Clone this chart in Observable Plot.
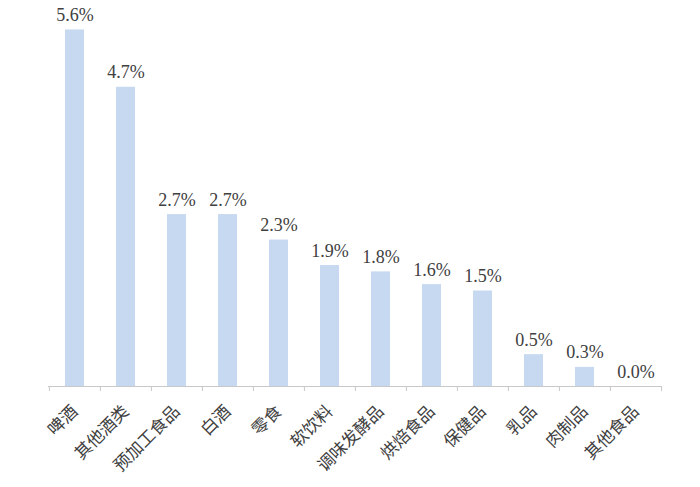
<!DOCTYPE html>
<html>
<head>
<meta charset="utf-8">
<script src="https://cdn.jsdelivr.net/npm/d3@7"></script>
<script src="https://cdn.jsdelivr.net/npm/@observablehq/plot@0.6"></script>
<style>
  body { margin: 0; background: #fff; }
</style>
</head>
<body>
<div id="chart"></div>
<script>
const categories = ["啤酒", "其他酒类", "预加工食品", "白酒", "零食", "软饮料", "调味发酵品", "烘焙食品", "保健品", "乳品", "肉制品", "其他食品"];
const values = [5.6, 4.7, 2.7, 2.7, 2.3, 1.9, 1.8, 1.6, 1.5, 0.5, 0.3, 0.0];
const labels = ["5.6%", "4.7%", "2.7%", "2.7%", "2.3%", "1.9%", "1.8%", "1.6%", "1.5%", "0.5%", "0.3%", "0.0%"];

const data = categories.map((c, i) => ({cat: c, value: values[i], label: labels[i]}));

const W = 700, H = 487;
const mL = 48, mR = 38, mT = 4, mB = 101;
const step = (W - mL - mR) / categories.length;
const axisColor = "#c8c8c8";

const chart = Plot.plot({
  width: W,
  height: H,
  marginLeft: mL,
  marginRight: mR,
  marginTop: mT,
  marginBottom: mB,
  x: {domain: categories, paddingInner: 0.63, paddingOuter: 0.315, axis: null},
  y: {domain: [0, 6], axis: null},
  marks: [
    Plot.barY(data, {x: "cat", y: "value", fill: "#c6d9f1"}),
    Plot.ruleY([0], {stroke: axisColor, strokeWidth: 1}),
    Plot.ruleX(categories, {x: d => d, y1: 0, y2: 0, dx: -step / 2, insetBottom: -5, stroke: axisColor}),
    Plot.ruleX(categories.slice(-1), {x: d => d, y1: 0, y2: 0, dx: step / 2, insetBottom: -5, stroke: axisColor}),
    Plot.text(data, {x: "cat", y: "value", text: "label", lineAnchor: "bottom", dy: -9,
      fontFamily: "Liberation Serif", fontSize: 18, fill: "#404040"}),
    Plot.text(data, {x: "cat", text: "cat", frameAnchor: "bottom", dy: 22, dx: 0, rotate: -45,
      textAnchor: "end", lineAnchor: "middle",
      fontFamily: "Noto Sans CJK SC", fontSize: 17, fill: "#404040"})
  ]
});
document.getElementById("chart").appendChild(chart);
</script>
</body>
</html>
